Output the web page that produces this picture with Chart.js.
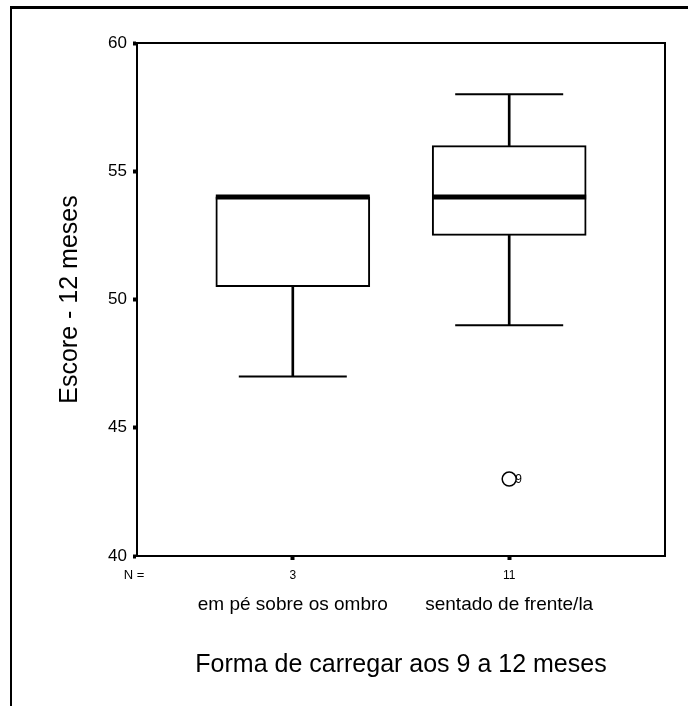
<!DOCTYPE html>
<html>
<head>
<meta charset="utf-8">
<script src="https://cdn.jsdelivr.net/npm/chart.js@4.4.0/dist/chart.umd.min.js"></script>
<style>
  body { margin: 0; background: #fff; }
  #wrap { position: relative; width: 688px; height: 706px; overflow: hidden; }
  #frame { position: absolute; left: 10px; top: 6px; right: 0; bottom: 0; border-top: 3px solid #000; border-left: 2px solid #000; pointer-events: none; }
  canvas { position: absolute; left: 0; top: 0; }
</style>
</head>
<body>
<div id="wrap">
  <canvas id="boxChart" width="688" height="706"></canvas>
  <div id="frame"></div>
</div>
<script>
// grupos e estatísticas do boxplot
const groups = ['em pé sobre os ombro', 'sentado de frente/la'];
const counts = [3, 11];
const whiskerLow = [47, 49];
const quartile1 = [50.5, 52.5];
const medians = [54, 54];
const quartile3 = [54, 56];
const whiskerHigh = [54, 58];
// valores atípicos: grupo (1-based), valor, número do caso
const outlierGroups = [2];
const outlierValues = [43];
const outlierCases = [9];
const yTicks = [40, 45, 50, 55, 60];

const FONT = "'Liberation Sans', Arial, sans-serif";
const positions = groups.map((g, i) => i + 1);

const boxData = positions.map((x, i) => ({ x, y: [quartile1[i], quartile3[i]] }));
const lowWhiskers = positions.map((x, i) => ({ x, y: [whiskerLow[i], quartile1[i]] }))
    .filter((d, i) => whiskerLow[i] < quartile1[i]);
const highWhiskers = positions.map((x, i) => ({ x, y: [quartile3[i], whiskerHigh[i]] }))
    .filter((d, i) => whiskerHigh[i] > quartile3[i]);
const caps = [];
positions.forEach((x, i) => {
    if (whiskerLow[i] < quartile1[i]) caps.push({ x, y: whiskerLow[i] });
    if (whiskerHigh[i] > quartile3[i]) caps.push({ x, y: whiskerHigh[i] });
});
const medianData = positions.map((x, i) => ({ x, y: medians[i] }));
const outlierData = outlierValues.map((v, i) => ({ x: outlierGroups[i], y: v }));

// moldura do gráfico, "N =" e números dos casos atípicos
const extras = {
    id: 'extras',
    afterDatasetsDraw(chart) {
        const { ctx, chartArea: a } = chart;
        ctx.save();
        ctx.strokeStyle = '#000';
        ctx.lineWidth = 2;
        ctx.beginPath();
        ctx.moveTo(a.left, a.top);
        ctx.lineTo(a.right, a.top);
        ctx.lineTo(a.right, a.bottom);
        ctx.stroke();

        const meta = chart.getDatasetMeta(4);
        ctx.fillStyle = '#000';
        ctx.font = '12px ' + FONT;
        ctx.textAlign = 'left';
        ctx.textBaseline = 'middle';
        meta.data.forEach((pt, i) => ctx.fillText(String(outlierCases[i]), pt.x + 6, pt.y + 1));
        ctx.restore();
    },
    afterDraw(chart) {
        const { ctx } = chart;
        const xs = chart.scales.x;
        ctx.save();
        ctx.fillStyle = '#000';
        ctx.font = '13px ' + FONT;
        ctx.textAlign = 'center';
        ctx.textBaseline = 'middle';
        ctx.fillText('N =', chart.chartArea.left - 3, xs.top + 4 + 8 + 7.2);
        ctx.restore();
    }
};

const xCommon = {
    type: 'linear',
    min: 0.28,
    max: 2.72,
    offset: false,
    afterBuildTicks: s => { s.ticks = positions.map(v => ({ value: v })); }
};

new Chart(document.getElementById('boxChart'), {
    type: 'bar',
    data: {
        datasets: [
            {
                label: 'caixa',
                data: boxData,
                backgroundColor: '#fff',
                borderColor: '#000',
                borderWidth: 2,
                borderSkipped: false,
                barThickness: 154,
                grouped: false,
                order: 5
            },
            {
                label: 'bigode inferior',
                data: lowWhiskers,
                backgroundColor: '#000',
                borderWidth: 0,
                barThickness: 2,
                grouped: false,
                order: 4
            },
            {
                label: 'bigode superior',
                data: highWhiskers,
                backgroundColor: '#000',
                borderWidth: 0,
                barThickness: 2,
                grouped: false,
                order: 4
            },
            {
                type: 'scatter',
                label: 'extremos',
                data: caps,
                pointStyle: 'line',
                pointRadius: 54,
                borderColor: '#000',
                borderWidth: 2,
                order: 3
            },
            {
                type: 'scatter',
                label: 'atípicos',
                data: outlierData,
                pointStyle: 'circle',
                pointRadius: 7,
                backgroundColor: '#fff',
                borderColor: '#000',
                borderWidth: 1.5,
                order: 1
            },
            {
                type: 'scatter',
                label: 'mediana',
                data: medianData,
                pointStyle: 'line',
                pointRadius: 77,
                borderColor: '#000',
                borderWidth: 5,
                order: 2
            }
        ]
    },
    options: {
        responsive: false,
        animation: false,
        events: [],
        layout: { autoPadding: false, padding: { left: 0, top: 43, right: 23, bottom: 0 } },
        plugins: { legend: { display: false }, tooltip: { enabled: false } },
        scales: {
            x: {
                ...xCommon,
                weight: 0,
                afterFit: s => { s.height = 30; },
                grid: { drawOnChartArea: false, offset: false, tickLength: 4, tickWidth: 4, tickColor: '#000' },
                border: { color: '#000', width: 2 },
                ticks: {
                    color: '#000',
                    font: { family: FONT, size: 12 },
                    padding: 8,
                    maxRotation: 0,
                    callback: (v, i) => String(counts[i])
                }
            },
            x2: {
                ...xCommon,
                position: 'bottom',
                weight: 1,
                afterFit: s => { s.height = 120; },
                grid: { display: false, drawTicks: false },
                border: { display: false },
                ticks: {
                    color: '#000',
                    font: { family: FONT, size: 19 },
                    padding: 7,
                    maxRotation: 0,
                    autoSkip: false,
                    callback: (v, i) => groups[i]
                },
                title: {
                    display: true,
                    text: 'Forma de carregar aos 9 a 12 meses',
                    color: '#000',
                    font: { family: FONT, size: 25 },
                    padding: { top: 0, bottom: 26 }
                }
            },
            y: {
                min: 40,
                max: 60,
                afterBuildTicks: s => { s.ticks = yTicks.map(v => ({ value: v })); },
                afterFit: s => { s.width = 137; },
                grid: { drawOnChartArea: false, tickLength: 4, tickWidth: 4, tickColor: '#000' },
                border: { color: '#000', width: 2 },
                ticks: { color: '#000', font: { family: FONT, size: 17 }, padding: 6 },
                title: {
                    display: true,
                    text: 'Escore - 12 meses',
                    color: '#000',
                    font: { family: FONT, size: 25 },
                    padding: { top: 55, bottom: 0 }
                }
            }
        }
    },
    plugins: [extras]
});
</script>
</body>
</html>
